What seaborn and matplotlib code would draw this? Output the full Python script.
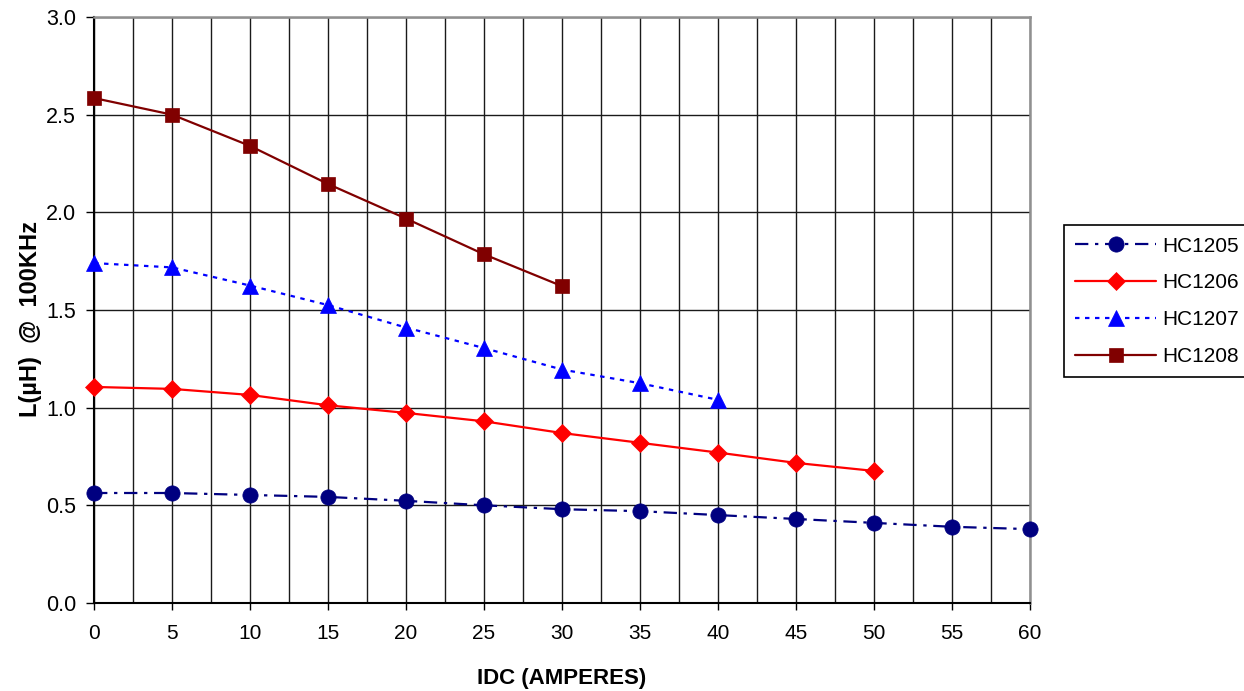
import matplotlib
matplotlib.use('Agg')
import matplotlib.pyplot as plt
import pandas as pd
import seaborn as sns
from matplotlib.ticker import MultipleLocator

# Data
idc = [0, 5, 10, 15, 20, 25, 30, 35, 40, 45, 50, 55, 60]
hc1205 = [0.563, 0.563, 0.553, 0.543, 0.523, 0.50, 0.48, 0.47, 0.45, 0.43, 0.41, 0.39, 0.378]
hc1206 = [1.106, 1.096, 1.065, 1.012, 0.973, 0.93, 0.87, 0.82, 0.77, 0.717, 0.676]
hc1207 = [1.74, 1.718, 1.625, 1.525, 1.41, 1.305, 1.195, 1.125, 1.04]
hc1208 = [2.585, 2.50, 2.34, 2.145, 1.968, 1.785, 1.622]

series = {'HC1205': hc1205, 'HC1206': hc1206, 'HC1207': hc1207, 'HC1208': hc1208}
styles = {
    'HC1205': dict(color='#000080', marker='o', ms=11, ls=(0, (6, 3, 1.5, 3))),
    'HC1206': dict(color='#FF0000', marker='D', ms=9, ls='-'),
    'HC1207': dict(color='#0000FF', marker='^', ms=11, ls=(0, (2, 2.5))),
    'HC1208': dict(color='#800000', marker='s', ms=9.5, ls='-'),
}

sns.set_theme(style='white')
plt.rcParams['font.family'] = ['Liberation Sans', 'DejaVu Sans']
plt.rcParams['text.color'] = 'black'
plt.rcParams['axes.labelcolor'] = 'black'
plt.rcParams['xtick.color'] = 'black'
plt.rcParams['ytick.color'] = 'black'

fig = plt.figure(figsize=(12.44, 6.91), dpi=100)
ax = fig.add_axes([0.0756, 0.1274, 0.7524, 0.848])

for name, vals in series.items():
    d = pd.DataFrame({'IDC': idc[:len(vals)], 'L': vals})
    st = styles[name]
    sns.lineplot(data=d, x='IDC', y='L', ax=ax, color=st['color'], marker=st['marker'],
                 markersize=st['ms'], linestyle=st['ls'], linewidth=1.6,
                 markeredgecolor=st['color'], markeredgewidth=0.5, label=name,
                 clip_on=False, zorder=3)

ax.set_xlim(0, 60)
ax.set_ylim(0, 3.0)
ax.xaxis.set_major_locator(MultipleLocator(5))
ax.xaxis.set_minor_locator(MultipleLocator(2.5))
ax.yaxis.set_major_locator(MultipleLocator(0.5))
ax.yaxis.set_major_formatter(matplotlib.ticker.FormatStrFormatter('%.1f'))

ax.grid(True, which='both', axis='x', color='#1a1a1a', linewidth=1.0)
ax.grid(True, which='major', axis='y', color='#1a1a1a', linewidth=1.0)
ax.set_axisbelow(True)

for s in ['top', 'right']:
    ax.spines[s].set_color('#909090')
    ax.spines[s].set_linewidth(1.8)
for s in ['left', 'bottom']:
    ax.spines[s].set_color('black')
    ax.spines[s].set_linewidth(1.5)

ax.tick_params(axis='y', which='major', left=True, direction='out', length=6, width=1,
               color='black', labelcolor='black', labelsize=15.5, pad=7)
ax.tick_params(axis='x', which='major', bottom=True, direction='out', length=5, width=1,
               color='black', labelcolor='black', labelsize=15, pad=10)
ax.tick_params(axis='x', which='minor', bottom=False)

ax.set_xlabel('IDC (AMPERES)', fontsize=16, fontweight='bold', labelpad=18)
ax.set_ylabel('L(\u00b5H)  @  100KHz', fontsize=17, fontweight='bold')
ax.yaxis.set_label_coords(-0.0556, 0.485)

leg = ax.legend(loc='upper left', bbox_to_anchor=(0.855, 0.674), bbox_transform=fig.transFigure,
                fontsize=15, frameon=True, fancybox=False, edgecolor='black', framealpha=1,
                handlelength=3.9, handletextpad=0.3, labelspacing=0.85, borderpad=0.55,
                borderaxespad=0)
leg.get_frame().set_linewidth(1.2)

fig.savefig('out.png', dpi=100)
